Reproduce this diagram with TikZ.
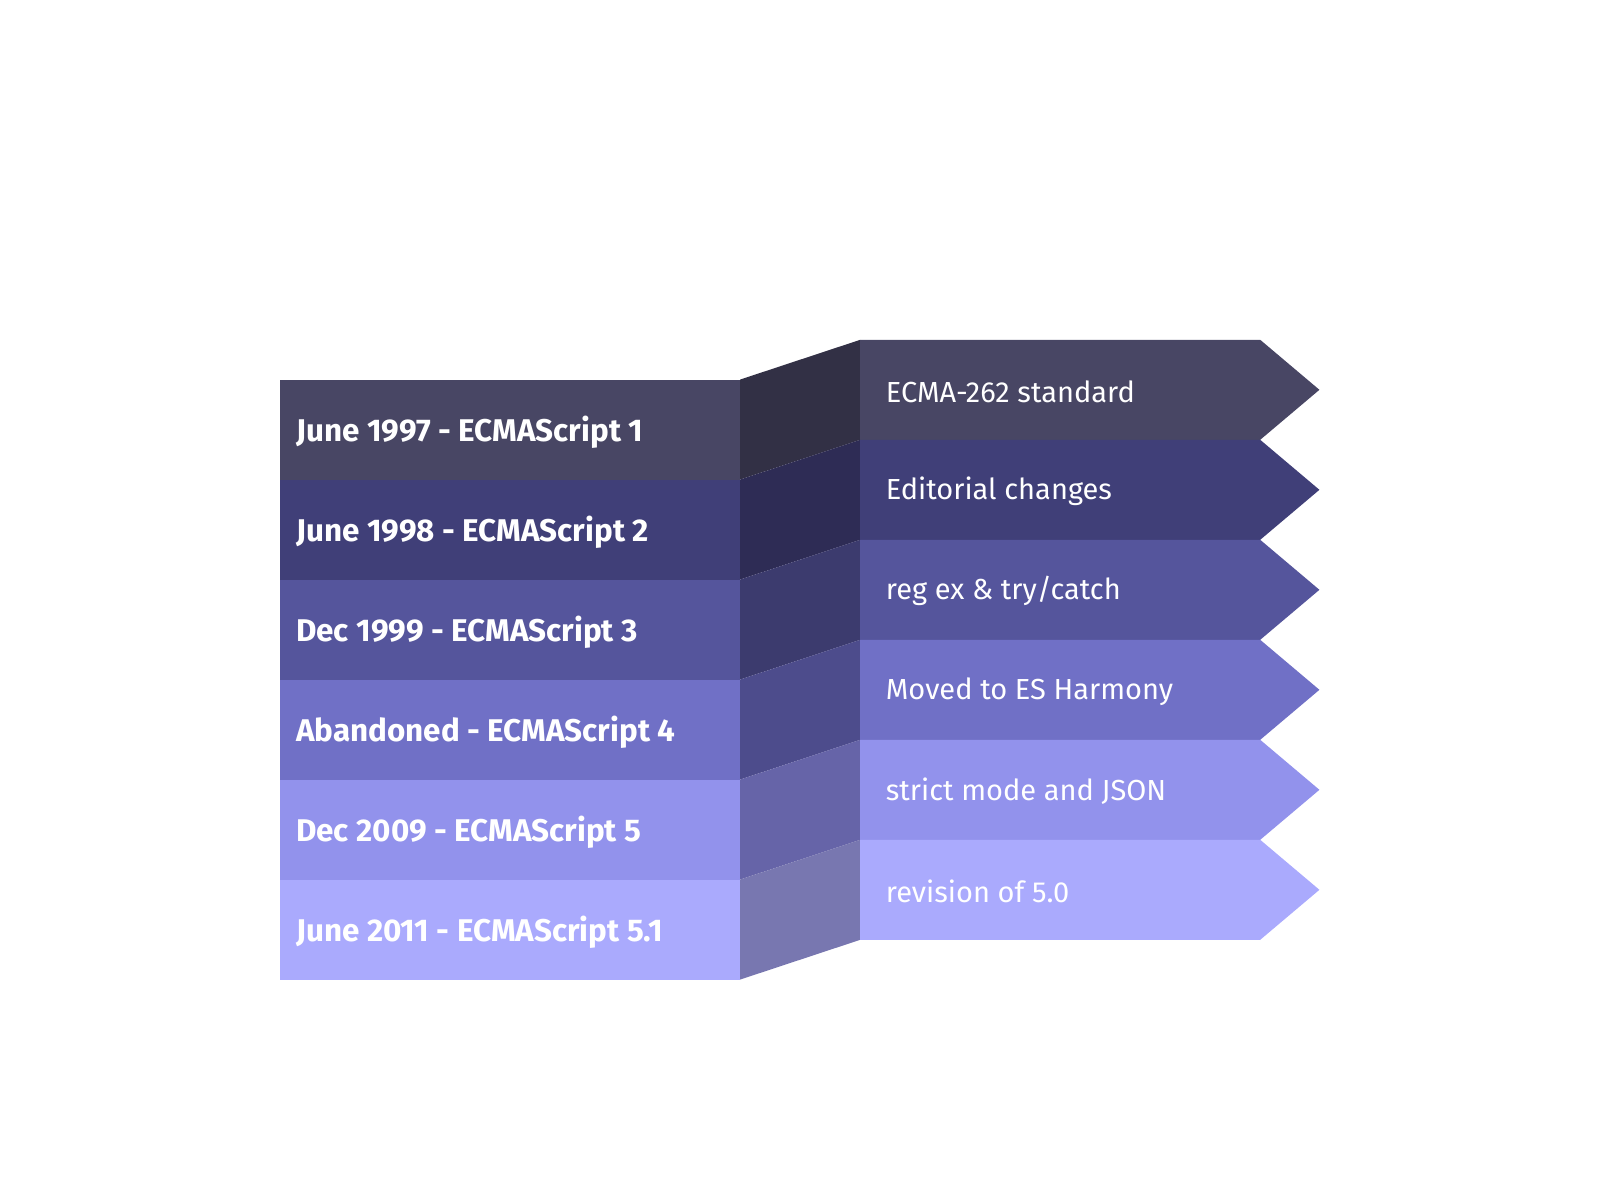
\documentclass[tikz,border=0pt]{standalone}
\usepackage{fontspec}
\setmainfont{Fira Sans}
\definecolor{Lone}{HTML}{484664}
\definecolor{Ltwo}{HTML}{403F78}
\definecolor{Lthree}{HTML}{55559C}
\definecolor{Lfour}{HTML}{7070C6}
\definecolor{Lfive}{HTML}{9292EC}
\definecolor{Lsix}{HTML}{AAAAFD}
\definecolor{Cone}{HTML}{323045}
\definecolor{Ctwo}{HTML}{2E2C55}
\definecolor{Cthree}{HTML}{3C3B6E}
\definecolor{Cfour}{HTML}{4D4C8C}
\definecolor{Cfive}{HTML}{6664A8}
\definecolor{Csix}{HTML}{7877B0}
\tikzset{
  lefttext/.style={anchor=west,text=white,font=\fontsize{31.4}{36}\selectfont\bfseries,inner sep=0pt},
  righttext/.style={anchor=west,text=white,font=\fontsize{29}{34}\selectfont,inner sep=0pt},
}
\begin{document}
\begin{tikzpicture}[x=1pt,y=-1pt]
\useasboundingbox (0,0) rectangle (1600,1200);
\foreach \i/\lc/\cc/\lt/\rt in {
  0/Lone/Cone/{June 1997 - ECMAScript 1}/{ECMA-262 standard},
  1/Ltwo/Ctwo/{June 1998 - ECMAScript 2}/{Editorial changes},
  2/Lthree/Cthree/{Dec 1999 - ECMAScript 3}/{reg ex \& try/catch},
  3/Lfour/Cfour/{Abandoned - ECMAScript 4}/{Moved to ES Harmony},
  4/Lfive/Cfive/{Dec 2009 - ECMAScript 5}/{strict mode and JSON},
  5/Lsix/Csix/{June 2011 - ECMAScript 5.1}/{revision of 5.0}}{
  \pgfmathsetmacro{\yl}{379.6+100*\i}
  \pgfmathsetmacro{\yr}{339.8+100*\i}
  % left box
  \fill[\lc] (279.6,\yl) rectangle (740,\yl+100);
  % connector panel
  \fill[\cc] (740,\yl) -- (860.2,\yr) -- (860.2,\yr+100) -- (740,\yl+100) -- cycle;
  % right arrow
  \fill[\lc] (860.2,\yr) -- (1260.2,\yr) -- (1319.4,\yr+50) -- (1260.2,\yr+100) -- (860.2,\yr+100) -- cycle;
  \node[lefttext] (l\i) at (296,\yl+53) {\lt};
  \node[righttext] (r\i) at (885.7,\yr+51.5) {\rt};
}
\end{tikzpicture}
\end{document}
